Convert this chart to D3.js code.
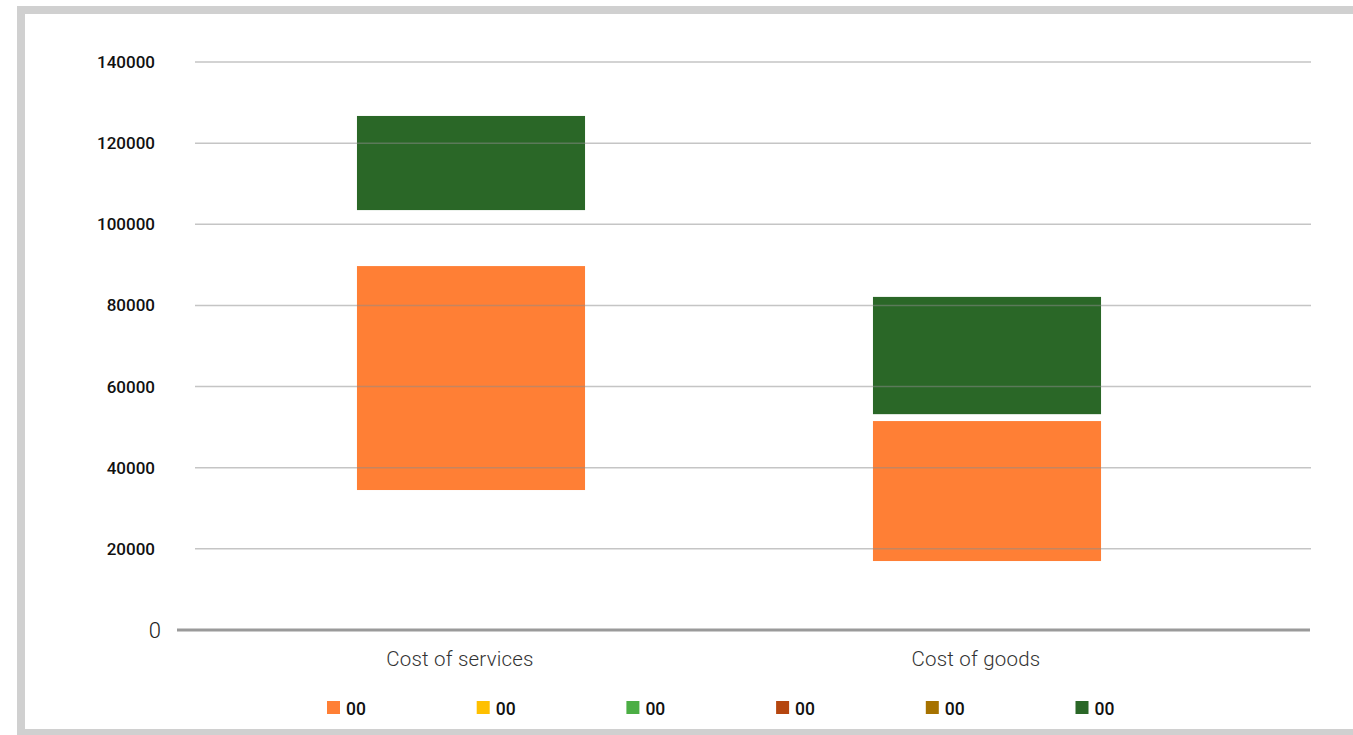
<!DOCTYPE html>
<html>
<head>
<meta charset="utf-8">
<script src="https://cdn.jsdelivr.net/npm/d3@7"></script>
<style>
  html, body { margin: 0; padding: 0; background: #fff; }
  svg { display: block; }
</style>
</head>
<body>
<svg id="chart" width="1353" height="735"></svg>
<script>
// Categories and floating bar ranges (low / high) per series
const categories = ["Cost of services", "Cost of goods"];
const orangeLow  = [34500, 17000];
const orangeHigh = [89700, 51500];
const greenLow   = [103500, 53200];
const greenHigh  = [126700, 82100];

const legendLabels = ["00", "00", "00", "00", "00", "00"];
const legendColors = ["#ff7f35", "#ffc000", "#4cae45", "#b5460f", "#a67200", "#2a6727"];
const yTicks = [0, 20000, 40000, 60000, 80000, 100000, 120000, 140000];

const svg = d3.select("#chart");
const W = 1353, H = 735;

// Frame
svg.append("rect").attr("x", 21).attr("y", 10).attr("width", W).attr("height", 723)
  .attr("fill", "#fff").attr("stroke", "#d0d0d0").attr("stroke-width", 8);

const y = d3.scaleLinear().domain([0, 140000]).range([630, 62]);
const x = d3.scaleBand().domain(categories).range([213, 1245]).paddingInner(0.558).paddingOuter(0.279);

const font = "Roboto, 'DejaVu Sans', sans-serif";

// Bars
const bars = svg.append("g");
categories.forEach((c, i) => {
  bars.append("rect")
    .attr("x", x(c)).attr("width", x.bandwidth())
    .attr("y", y(orangeHigh[i])).attr("height", y(orangeLow[i]) - y(orangeHigh[i]))
    .attr("fill", legendColors[0]);
  bars.append("rect")
    .attr("x", x(c)).attr("width", x.bandwidth())
    .attr("y", y(greenHigh[i])).attr("height", y(greenLow[i]) - y(greenHigh[i]))
    .attr("fill", legendColors[5]);
});

// Gridlines drawn over the bars
const grid = svg.append("g");
yTicks.filter(t => t > 0).forEach(t => {
  grid.append("line")
    .attr("x1", 195).attr("x2", 1311)
    .attr("y1", y(t)).attr("y2", y(t))
    .attr("stroke", "#8c8c8c").attr("stroke-opacity", 0.5).attr("stroke-width", 1.5);
});
// Baseline
svg.append("line").attr("x1", 177).attr("x2", 1310)
  .attr("y1", y(0)).attr("y2", y(0))
  .attr("stroke", "#9a9a9a").attr("stroke-width", 3);

// Y tick labels
const yAxis = svg.append("g");
yTicks.forEach(t => {
  if (t === 0) {
    yAxis.append("text").attr("x", 161).attr("y", y(t) + 8)
      .attr("text-anchor", "end").attr("font-family", font)
      .attr("font-weight", 300).attr("font-size", 22).attr("fill", "#222").text("0");
  } else {
    yAxis.append("text").attr("x", 155).attr("y", y(t) + 6)
      .attr("text-anchor", "end").attr("font-family", font)
      .attr("font-weight", 500).attr("font-size", 17).attr("fill", "#111").text(String(t));
  }
});

// Category labels
categories.forEach(c => {
  svg.append("text")
    .attr("x", x(c) + x.bandwidth() / 2 - 11).attr("y", 666)
    .attr("text-anchor", "middle").attr("font-family", font)
    .attr("font-weight", 300).attr("font-size", 20.5).attr("letter-spacing", 0.2)
    .attr("fill", "#333").text(c);
});

// Legend
const legend = svg.append("g");
legendLabels.forEach((lab, i) => {
  const lx = 327 + i * 149.7;
  legend.append("rect").attr("x", lx).attr("y", 701).attr("width", 13).attr("height", 13)
    .attr("fill", legendColors[i]);
  legend.append("text").attr("x", lx + 19).attr("y", 715)
    .attr("font-family", font).attr("font-weight", 500).attr("font-size", 17.5)
    .attr("fill", "#111").text(lab);
});
</script>
</body>
</html>
